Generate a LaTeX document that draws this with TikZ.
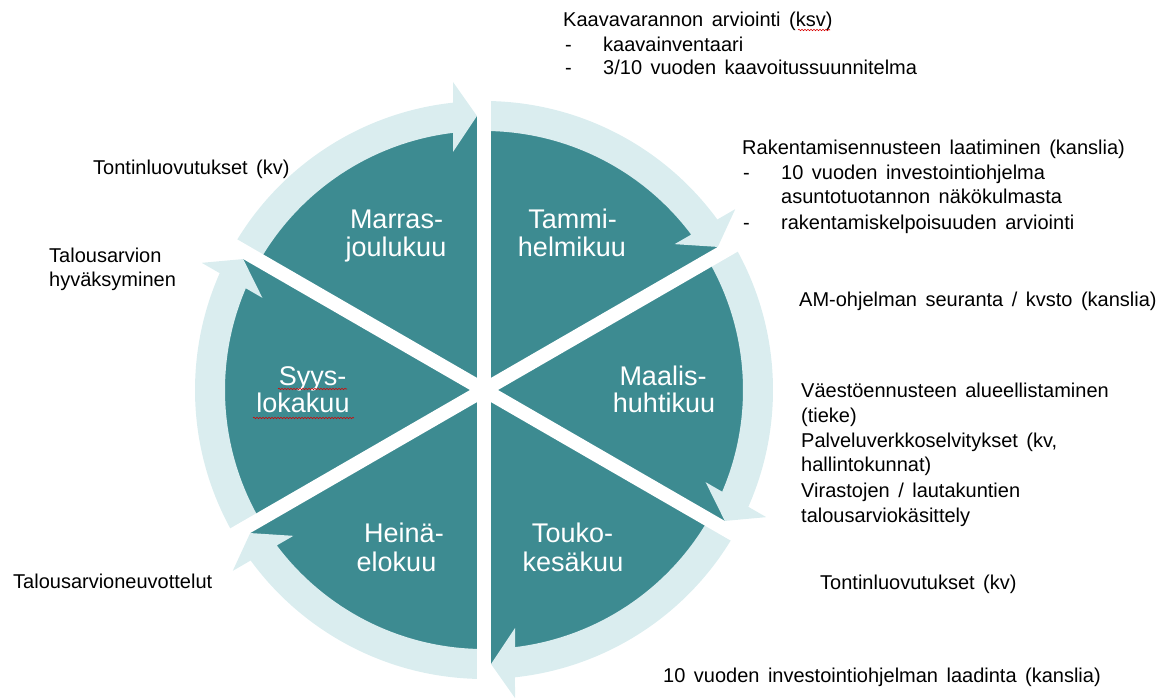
\documentclass[tikz,border=0pt]{standalone}
\usepackage{fontspec}
\setmainfont{Liberation Sans}
\usetikzlibrary{decorations.pathmorphing}
\definecolor{teal1}{HTML}{3D8B91}
\definecolor{ringc}{HTML}{DAEDEF}
\tikzset{
 body/.style={anchor=base west, inner sep=0pt, text=black, font=\fontsize{20}{25}\selectfont,
   execute at begin node={\spaceskip=8.5pt plus 1pt\relax}},
 mon/.style={anchor=base, inner sep=0pt, text=white, font=\fontsize{27}{28}\selectfont},
 wedge/.style={fill=teal1},
 ring/.style={fill=ringc},
 gapstrip/.style={fill=white},
 spell/.style={draw=red!85!black, line width=0.6pt, decorate, decoration={snake, segment length=3pt, amplitude=0.7pt}}
}
\begin{document}
\begin{tikzpicture}[x=1pt,y=1pt]
\useasboundingbox (0,0) rectangle (1175,698);
\coordinate (C) at (484,308);
\begin{scope}[shift={(C)}]
  \foreach \p in {-90,-30,30,90,150,210}{
    \fill[wedge] (0,0) -- (\p:274) arc[start angle=\p, end angle=\p+60, radius=274] -- cycle;
  }
  \foreach \p in {-90,-30,30,90,150,210}{
    \begin{scope}[rotate=\p]
      \fill[ring] (60:289) arc[start angle=60, end angle={asin(31/289)}, radius=289]
        -- (308,31) -- (274,7) -- (238,31)
        -- ({asin(31/259)}:259) arc[start angle={asin(31/259)}, end angle=60, radius=259] -- cycle;
    \end{scope}
  }
  \foreach \p in {30,90,150}{
    \fill[gapstrip, rotate=\p] (-316,-7) rectangle (316,7);
  }
\end{scope}

% sector labels
\node[mon] (m1a) at (396.5,469) {Marras-};
\node[mon] (m1b) at (396,441) {joulukuu};
\node[mon] (m2a) at (572.5,469) {Tammi-};
\node[mon] (m2b) at (572,441) {helmikuu};
\node[mon] (m3a) at (663,312) {Maalis-};
\node[mon] (m3b) at (664,285) {huhtikuu};
\node[mon] (m4a) at (312.5,312) {Syys-};
\node[mon] (m4b) at (303,285) {lokakuu};
\node[mon] (m5a) at (404,155) {Heinä-};
\node[mon] (m5b) at (396.5,126) {elokuu};
\node[mon] (m6a) at (572.5,155) {Touko-};
\node[mon] (m6b) at (573,126) {kesäkuu};

% top right
\node[body] (k1) at (563,671) {Kaavavarannon arviointi (ksv)};
\node[body] (k2d) at (565,646) {-};
\node[body] (k2) at (603,646) {kaavainventaari};
\node[body] (k3d) at (565,623) {-};
\node[body] (k3) at (603,623) {3/10 vuoden kaavoitussuunnitelma};

\node[body] (r1) at (742,543) {Rakentamisennusteen laatiminen (kanslia)};
\node[body] (r2d) at (743,518) {-};
\node[body] (r2) at (781,518) {10 vuoden investointiohjelma};
\node[body] (r3) at (781,494) {asuntotuotannon näkökulmasta};
\node[body] (r4d) at (743,468) {-};
\node[body] (r4) at (781,468) {rakentamiskelpoisuuden arviointi};

\node[body] (am) at (799,391) {AM-ohjelman seuranta / kvsto (kanslia)};

\node[body] (v1) at (801,300) {Väestöennusteen alueellistaminen};
\node[body] (v2) at (801,275) {(tieke)};
\node[body] (v3) at (801,250) {Palveluverkkoselvitykset (kv,};
\node[body] (v4) at (801,226) {hallintokunnat)};
\node[body] (v5) at (801,200) {Virastojen / lautakuntien};
\node[body] (v6) at (801,175) {talousarviokäsittely};

\node[body] (tr) at (820,108) {Tontinluovutukset (kv)};
\node[body] (inv) at (663,15) {10 vuoden investointiohjelman laadinta (kanslia)};

% left
\node[body] (tl) at (93,523) {Tontinluovutukset (kv)};
\node[body] (ta1) at (49,435) {Talousarvion};
\node[body] (ta2) at (49,411) {hyväksyminen};
\node[body] (tn) at (13,109) {Talousarvioneuvottelut};

% spell-check underlines
\draw[spell] (278,309) -- (347,309);
\draw[spell] (253,280) -- (354,280);
\draw[spell] (798,668) -- (830,668);
\end{tikzpicture}
\end{document}
